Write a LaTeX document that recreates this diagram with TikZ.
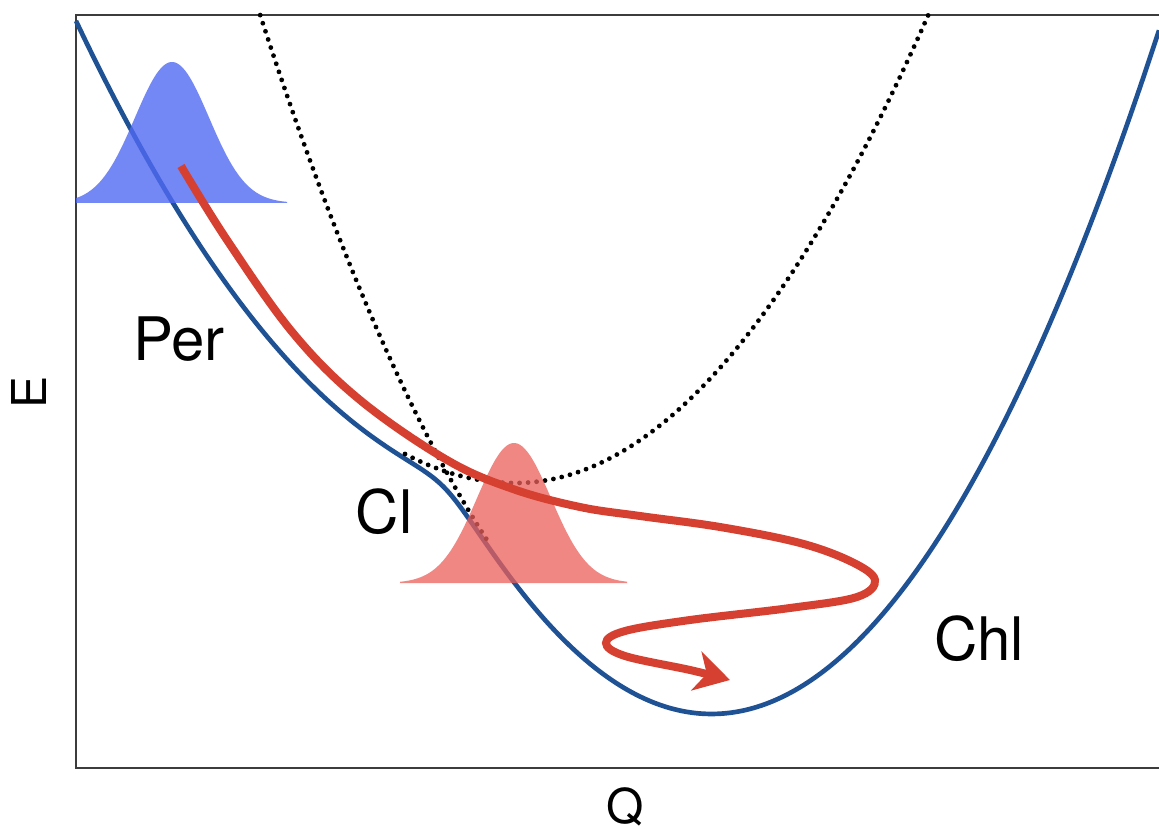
\documentclass[tikz,border=0pt]{standalone}
\usepackage{fontspec}
\setmainfont{TeX Gyre Heros}
\usetikzlibrary{arrows.meta}
\definecolor{curveblue}{RGB}{31,82,148}
\definecolor{arrowred}{RGB}{214,64,48}
\definecolor{gaussblue}{RGB}{80,105,242}
\definecolor{gaussred}{RGB}{235,95,90}
\definecolor{framegray}{RGB}{60,60,60}
\tikzset{
  declare function={
    chl(\x)=713-34.19*((\x-712)/100)*((\x-712)/100);
    per(\x)=483-ifthenelse(\x<515,24,27.4)*((\x-515)/100)*((\x-515)/100);
    ad(\x)=(chl(\x)+per(\x))/2+10*sqrt(((chl(\x)-per(\x))/20)*((chl(\x)-per(\x))/20)+3.24);
    gau(\x,\m)=exp(-0.5*((\x-\m)/37)*((\x-\m)/37));
  },
  framestyle/.style={draw=framegray,line width=1.5pt},
  adiabat/.style={draw=curveblue,line width=3.5pt},
  diabat/.style={draw=black,line width=3.6pt,line cap=round,dash pattern=on 0pt off 6.4pt},
  packetblue/.style={fill=gaussblue,fill opacity=0.8},
  packetred/.style={fill=gaussred,fill opacity=0.75},
  traj/.style={draw=arrowred,line width=6pt,-{Stealth[length=26pt,width=30pt,inset=8pt]}},
  biglabel/.style={font=\fontsize{45}{54}\selectfont,inner sep=0pt,anchor=base},
  axislabel/.style={font=\fontsize{36}{43}\selectfont,inner sep=0pt},
}
\begin{document}
\begin{tikzpicture}[x=0.75pt,y=-0.75pt]
\useasboundingbox (0,0) rectangle (1159,834);
% frame
\coordinate (tl) at (76,15);
\coordinate (tr) at (1162,15);
\coordinate (bl) at (76,768);
\coordinate (br) at (1162,768);
\draw[framestyle] (tr) -- (tl) -- (bl) -- (br);
% adiabatic curve
\draw[adiabat] plot[domain=76:1159,samples=260] (\x,{ad(\x)});
% diabatic continuations
\draw[diabat] plot[domain=260.2:488,samples=90] (\x,{chl(\x)});
\draw[diabat] plot[domain=405:928.3,samples=160] (\x,{per(\x)});
% wave packets
\fill[packetblue] (76,203) -- plot[domain=76:287,samples=90] (\x,{203-141*gau(\x,172)}) -- (287,203) -- cycle;
\fill[packetred] (400,583) -- plot[domain=400:627,samples=90] (\x,{583-140*gau(\x,514)}) -- (627,583) -- cycle;
% trajectory
\draw[traj] plot[smooth,tension=0.6] coordinates {
  (181,166) (227,240) (293,333) (360,400) (447,460) (513,489) (580,507)
  (640,516) (720,527) (800,543) (852,562) (875,580) (857,597) (790,608)
  (690,620) (625,631) (606,643) (625,656) (690,670) (730,680)};
% labels
\node[biglabel] (per) at (179,360) {Per};
\node[biglabel] (cl) at (384,533) {Cl};
\node[biglabel] (chl) at (979,660) {Chl};
\node[axislabel,rotate=90] (E) at (29,392) {E};
\node[axislabel] (Q) at (625,807) {Q};
\end{tikzpicture}
\end{document}
